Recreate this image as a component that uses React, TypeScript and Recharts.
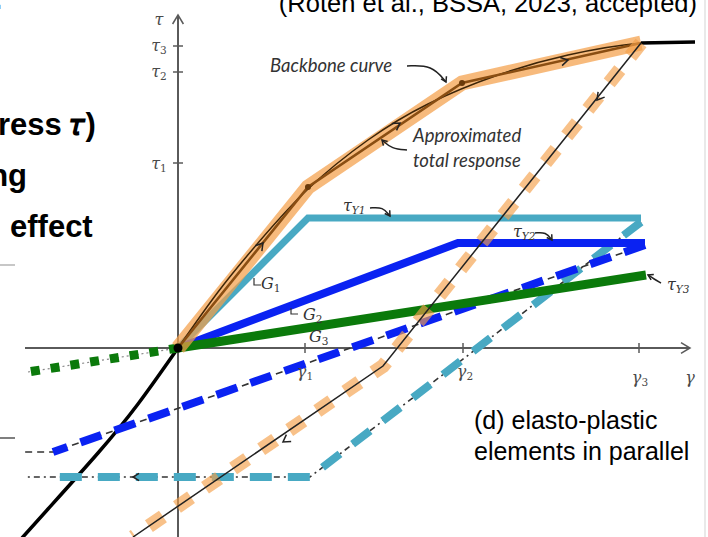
import React from "react";
import { LineChart, Line, XAxis, YAxis, Scatter } from "recharts";

// Schematic units: 1 unit of shear strain / stress in the drawing
type P = { x: number; y: number };
const pts = (a: number[][]): P[] => a.map(([x, y]) => ({ x, y }));

// axes
const xAxisLine = pts([[-153, 0], [512, 0]]);
const yAxisLine = pts([[0, -189], [0, 333]]);
const gammaTicks = [127, 285, 461];
const tauTicks = [185, 276, 302];

// backbone (smooth) and approximated total response (piecewise)
const backboneSmooth = pts([[0, 0], [40, 56], [80, 105], [130, 159], [190, 208], [250, 244], [320, 273], [390, 293], [463, 305], [517, 306]]);
const backboneNeg = pts([[0, 0], [-40, -56], [-80, -105], [-130, -161], [-156, -190]]);
const approxTotal = pts([[0, 0], [130, 161], [284, 265], [463, 305]]);
const unloadTotal = pts([[463, 305], [205, -18], [-45, -189]]);

// elasto-plastic elements
const elem1Load = pts([[0, 0], [130, 130], [463, 130]]);
const elem1Unload = pts([[463, 126], [132, -129], [-123, -129]]);
const elem1Guide = pts([[463, 126], [132, -129], [-153, -129]]);
const elem2Load = pts([[0, 0], [280, 105], [467, 105]]);
const elem2Unload = pts([[467, 103], [-125, -104]]);
const elem2Guide = pts([[467, 103], [-125, -104], [-153, -104]]);
const elem3Load = pts([[0, 0], [468, 73]]);
const elem3Unload = pts([[0, 0], [-150, -24]]);

// curved annotation leaders
const leaders = [
  pts([[229, 282], [254, 283], [268, 266]]),
  pts([[229, 198], [214, 199], [204, 208]]),
  pts([[192, 140], [205, 141], [212, 132]]),
  pts([[357, 115], [368, 116], [374, 108]]),
  pts([[483, 65], [476, 69], [470, 73]]),
];
// arrow heads: tip and direction
const arrows: { tip: number[]; dir: number[]; s: number }[] = [
  { tip: [512, 0], dir: [1, 0], s: 9 },
  { tip: [0, 333], dir: [0, 1], s: 9 },
  { tip: [85, 105], dir: [130, 161], s: 7 },
  { tip: [222, 225], dir: [154, 104], s: 7 },
  { tip: [390, 288], dir: [179, 40], s: 7 },
  { tip: [419, 248], dir: [-258, -323], s: 7 },
  { tip: [105, -94], dir: [-248, -171], s: 7 },
  { tip: [-45, -129], dir: [-1, 0], s: 6 },
  { tip: [268, 266], dir: [1, -2], s: 5 },
  { tip: [204, 208], dir: [-1, 1], s: 5 },
  { tip: [212, 132], dir: [1, -1.5], s: 5 },
  { tip: [374, 108], dir: [1, -1.5], s: 5 },
  { tip: [470, 73], dir: [-1, 0.5], s: 5 },
];
const gCorners = [
  pts([[76, 70], [76, 63], [83, 63]]),
  pts([[113, 40], [113, 34], [120, 34]]),
];
const nodes = pts([[130, 161], [284, 265]]);
const slideRules = [pts([[-178, 83], [-163, 83]]), pts([[-178, -90], [-163, -90]])];
const frameRight = pts([[527, -189], [527, 348]]);

type L = { x: number; y: number; t: string; sub?: string; k: string };
const labels: L[] = [
  { x: -19, y: 328, t: "τ", k: "ax" },
  { x: -19, y: 302, t: "τ", sub: "3", k: "ax" },
  { x: -19, y: 276, t: "τ", sub: "2", k: "ax" },
  { x: -19, y: 184, t: "τ", sub: "1", k: "ax" },
  { x: 127, y: -24, t: "γ", sub: "1", k: "ax" },
  { x: 287, y: -24, t: "γ", sub: "2", k: "ax" },
  { x: 462, y: -30, t: "γ", sub: "3", k: "ax" },
  { x: 512, y: -30, t: "γ", k: "ax" },
  { x: 83, y: 64, t: "G", sub: "1", k: "g" },
  { x: 125, y: 33, t: "G", sub: "2", k: "g" },
  { x: 131, y: 11, t: "G", sub: "3", k: "g" },
  { x: 165, y: 142, t: "τ", sub: "Y1", k: "g" },
  { x: 335, y: 116, t: "τ", sub: "Y2", k: "g" },
  { x: 489, y: 63, t: "τ", sub: "Y3", k: "g" },
  { x: 92, y: 281, t: "Backbone curve", k: "note" },
  { x: 235, y: 211, t: "Approximated", k: "note" },
  { x: 235, y: 186, t: "total response", k: "note" },
  { x: 296, y: -74, t: "(d) elasto-plastic", k: "slide" },
  { x: 296, y: -105, t: "elements in parallel", k: "slide" },
  { x: 519, y: 336, t: "(Roten et al., BSSA, 2023, accepted)", k: "slideEnd" },
  { x: -180, y: 213, t: "ress 𝜏)", k: "bold" },
  { x: -151, y: 162, t: "ng", k: "boldEnd" },
  { x: -168, y: 111, t: "effect", k: "bold" },
  { x: -175, y: 339, t: ":", k: "boldEnd" },
];

const styles: Record<string, any> = {
  ax: { fontFamily: "DejaVu Serif", fontStyle: "italic", fontSize: 16, fill: "#4a4a4a", textAnchor: "middle", dominantBaseline: "middle" },
  g: { fontFamily: "DejaVu Serif", fontStyle: "italic", fontSize: 16, fill: "#333", textAnchor: "start", dominantBaseline: "middle" },
  note: { fontFamily: "Lato", fontStyle: "italic", fontSize: 18.5, fill: "#333", textAnchor: "start", dominantBaseline: "middle" },
  slide: { fontFamily: "Liberation Sans", fontSize: 25, fill: "#000", textAnchor: "start", dominantBaseline: "middle" },
  slideEnd: { fontFamily: "Liberation Sans", fontSize: 25.5, fill: "#000", textAnchor: "end" },
  bold: { fontFamily: "Liberation Sans", fontWeight: "bold", fontSize: 31, fill: "#000", textAnchor: "start" },
  boldEnd: { fontFamily: "Liberation Sans", fontWeight: "bold", fontSize: 31, fill: "#000", textAnchor: "end" },
};

const arrowHead = (a: { tip: number[]; dir: number[]; s: number }): P[] => {
  const [tx, ty] = a.tip;
  const n = Math.hypot(a.dir[0], a.dir[1]);
  const ux = a.dir[0] / n, uy = a.dir[1] / n;
  const bx = tx - ux * a.s, by = ty - uy * a.s;
  const w = a.s * 0.6;
  return [
    { x: bx - uy * w, y: by + ux * w },
    { x: tx, y: ty },
    { x: bx + uy * w, y: by - ux * w },
  ];
};

const LabelShape = (props: any) => {
  const { cx, cy, payload } = props;
  const st = styles[payload.k];
  return (
    <text x={cx} y={cy} {...st}>
      <tspan>{payload.t}</tspan>
      {payload.sub ? (
        <tspan dy={5} fontSize={st.fontSize * 0.66} fontStyle={payload.sub.startsWith("Y") ? "italic" : "normal"}>
          {payload.sub}
        </tspan>
      ) : null}
    </text>
  );
};

const ln = (key: string, data: P[], stroke: string, w: number, extra: any = {}) => (
  <Line
    key={key}
    data={data}
    dataKey="y"
    type="linear"
    stroke={stroke}
    strokeWidth={w}
    dot={false}
    activeDot={false}
    isAnimationActive={false}
    strokeLinecap="butt"
    strokeLinejoin="miter"
    {...extra}
  />
);

export default function App() {
  return (
    <div style={{ position: "absolute", left: 0, top: 0, width: 708, height: 537, background: "#fff" }}>
      <LineChart width={708} height={537} margin={{ top: 0, right: 0, bottom: 0, left: 0 }}>
        <XAxis type="number" dataKey="x" domain={[-178, 530]} hide allowDataOverflow />
        <YAxis type="number" dataKey="y" domain={[-189, 348]} hide allowDataOverflow />
        {ln("frame", frameRight, "#e2e2e2", 1.5)}
        {slideRules.map((d, i) => ln("rule" + i, d, i === 0 ? "#b5b5b5" : "#555", 1.5))}
        {ln("xax", xAxisLine, "#5a5a5a", 2)}
        {ln("yax", yAxisLine, "#5a5a5a", 2)}
        {gammaTicks.map((g, i) => ln("gt" + i, pts([[g, -5], [g, 5]]), "#5a5a5a", 1.5))}
        {tauTicks.map((t, i) => ln("tt" + i, pts([[-5, t], [5, t]]), "#5a5a5a", 1.5))}

        {ln("bbneg", backboneNeg, "#000", 3.5, { type: "natural" })}
        {ln("e3u-guide", elem3Unload, "#888", 1.2, { strokeDasharray: "2 3" })}
        {ln("e3u", elem3Unload, "#0b7a0b", 9, { strokeDasharray: "9 11" })}
        {ln("e1g", elem1Guide, "#333", 1.6, { strokeDasharray: "6 4 2 4" })}
        {ln("e1u", elem1Unload, "#48a9c3", 8, { strokeDasharray: "22 16" })}
        {ln("e2g", elem2Guide, "#333", 1.6, { strokeDasharray: "7 5" })}
        {ln("e2u", elem2Unload, "#0a22f2", 8, { strokeDasharray: "22 14" })}

        {ln("e1l", elem1Load, "#48a9c3", 7)}
        {ln("e2l", elem2Load, "#0a22f2", 8)}
        {ln("e3l", elem3Load, "#0b7a0b", 9)}

        {ln("bbhl", approxTotal, "#f4a04a", 15, { strokeOpacity: 0.72 })}
        {ln("bbsmooth", backboneSmooth, "#3d2508", 1.5, { type: "natural" })}
        {ln("bbapprox", approxTotal, "#8a4e12", 2.6)}
        {ln("bbtail", pts([[463, 305], [517, 306]]), "#000", 3.5)}
        {ln("unl-hl", unloadTotal, "#f4a04a", 14, { strokeOpacity: 0.65, strokeDasharray: "17 17" })}
        {ln("unl", unloadTotal, "#222", 1.5)}

        {leaders.map((d, i) => ln("lead" + i, d, "#222", 1.5, { type: "basis" }))}
        {arrows.map((a, i) => ln("arr" + i, arrowHead(a), i < 2 ? "#5a5a5a" : "#222", 1.5))}
        {gCorners.map((d, i) => ln("gc" + i, d, "#333", 1.2))}
        {ln("nodes", nodes, "none", 0, { dot: { r: 3, fill: "#6a3a0a", stroke: "none" } })}
        {ln("origin", pts([[0, 0]]), "none", 0, { dot: { r: 4.5, fill: "#000", stroke: "none" } })}

        <Scatter data={labels} shape={LabelShape} isAnimationActive={false} />
      </LineChart>
    </div>
  );
}
